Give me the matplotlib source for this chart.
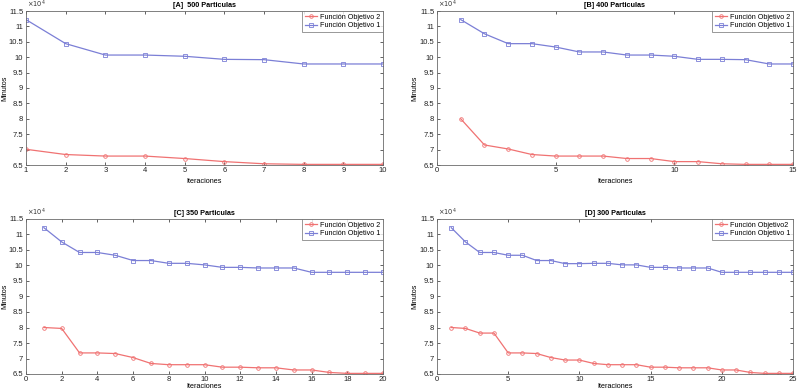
import matplotlib
matplotlib.use("Agg")
import matplotlib.pyplot as plt
from matplotlib.ticker import FuncFormatter, MultipleLocator

plt.rcParams['font.family'] = ['Liberation Sans', 'DejaVu Sans']

titles = ["[A]  500 Particulas", "[B] 400 Particulas", "[C] 350 Particulas", "[D] 300 Particulas"]
legend_f2 = ["Función Objetivo 2", "Función Objetivo 2", "Función Objetivo 2", "Función Objetivo2"]
legend_f1 = "Función Objetivo 1"

# Values in minutes
a_f1 = [112200, 104400, 100700, 100700, 100300, 99300, 99200, 97800, 97800, 97800]
a_f2 = [70100, 68400, 67900, 67900, 67100, 66100, 65400, 65200, 65200, 65200]

b_f1 = [112200, 107600, 104400, 104400, 103300, 101700, 101700, 100700, 100700, 100300,
        99300, 99300, 99200, 97800, 97800]
b_f2 = [80000, 71500, 70200, 68400, 67900, 67900, 67900, 67100, 67100, 66100,
        66100, 65400, 65200, 65200, 65200]

c_f1 = [112200, 107600, 104200, 104200, 103300, 101600, 101600, 100700, 100700, 100200,
        99400, 99400, 99200, 99200, 99200, 97800, 97800, 97800, 97800, 97800]
c_f2 = [80000, 79700, 71800, 71800, 71600, 70300, 68400, 68000, 68000, 68000,
        67200, 67200, 67000, 67000, 66300, 66300, 65500, 65200, 65200, 65200]

d_f1 = [112200, 107600, 104200, 104200, 103300, 103300, 101600, 101600, 100600, 100600,
        100700, 100700, 100200, 100200, 99400, 99400, 99200, 99200, 99200, 97800,
        97800, 97800, 97800, 97800, 97800]
d_f2 = [80000, 79700, 78200, 78200, 71800, 71800, 71600, 70300, 69500, 69500,
        68400, 68000, 68000, 68000, 67200, 67200, 67000, 67000, 67000, 66300,
        66300, 65500, 65200, 65200, 65200]

series = [(a_f1, a_f2), (b_f1, b_f2), (c_f1, c_f2), (d_f1, d_f2)]
xlims = [(1, 10), (0, 15), (0, 20), (0, 25)]
xsteps = [1, 5, 2, 5]

RED = '#f07272'
BLUE = '#7b7fd6'
GRAY = '#6a6a6a'

fig = plt.figure(figsize=(8, 3.9), dpi=100)
positions = [
    [26/800, 1-165/390, 357/800, 154/390],
    [437/800, 1-165/390, 356/800, 154/390],
    [26/800, 1-374/390, 357/800, 155/390],
    [437/800, 1-374/390, 356/800, 155/390],
]
ylabel_x = [-0.05, -0.053, -0.05, -0.053]
xlabel_pad = [3, 3, 0, 0]

fmt = FuncFormatter(lambda v, p: ('%g' % round(v/1e4, 2)))

for i, pos in enumerate(positions):
    ax = fig.add_axes(pos)
    f1, f2 = series[i]
    x1 = list(range(1, len(f1)+1))
    x2 = list(range(1, len(f2)+1))
    ax.plot(x2, f2, color=RED, lw=0.9, marker='o', ms=2.6, mfc='none', mew=0.6,
            label=legend_f2[i])
    ax.plot(x1, f1, color=BLUE, lw=0.9, marker='s', ms=2.2, mfc='none', mew=0.6,
            label=legend_f1)
    ax.set_xlim(*xlims[i])
    ax.set_ylim(65000, 115000)
    ax.xaxis.set_major_locator(MultipleLocator(xsteps[i]))
    ax.yaxis.set_major_locator(MultipleLocator(5000))
    ax.yaxis.set_major_formatter(fmt)
    ax.tick_params(direction='in', top=True, right=True, labelsize=5.5, length=2.5,
                   width=0.5, colors='#222222', pad=2)
    ax.tick_params(axis='x', pad=1.5)
    for s in ax.spines.values():
        s.set_color(GRAY)
        s.set_linewidth(0.6)
    ax.set_title(titles[i], fontsize=5.2, fontweight='bold', pad=3)
    ax.set_xlabel('Iteraciones', fontsize=5.2, labelpad=xlabel_pad[i])
    ax.set_ylabel('Minutos', fontsize=5.2)
    ax.yaxis.set_label_coords(ylabel_x[i], 0.5)
    ax.text(0.003, 1.004, r'$\times10^4$', transform=ax.transAxes, fontsize=4.8,
            ha='left', va='bottom', color='#333333')
    leg = ax.legend(loc='upper right', fontsize=5.2, frameon=True, fancybox=False,
                    borderaxespad=0.0, handlelength=1.7, borderpad=0.35,
                    labelspacing=0.2, handletextpad=0.4)
    leg.get_frame().set_edgecolor(GRAY)
    leg.get_frame().set_linewidth(0.6)

fig.savefig('out.png', dpi=100)
